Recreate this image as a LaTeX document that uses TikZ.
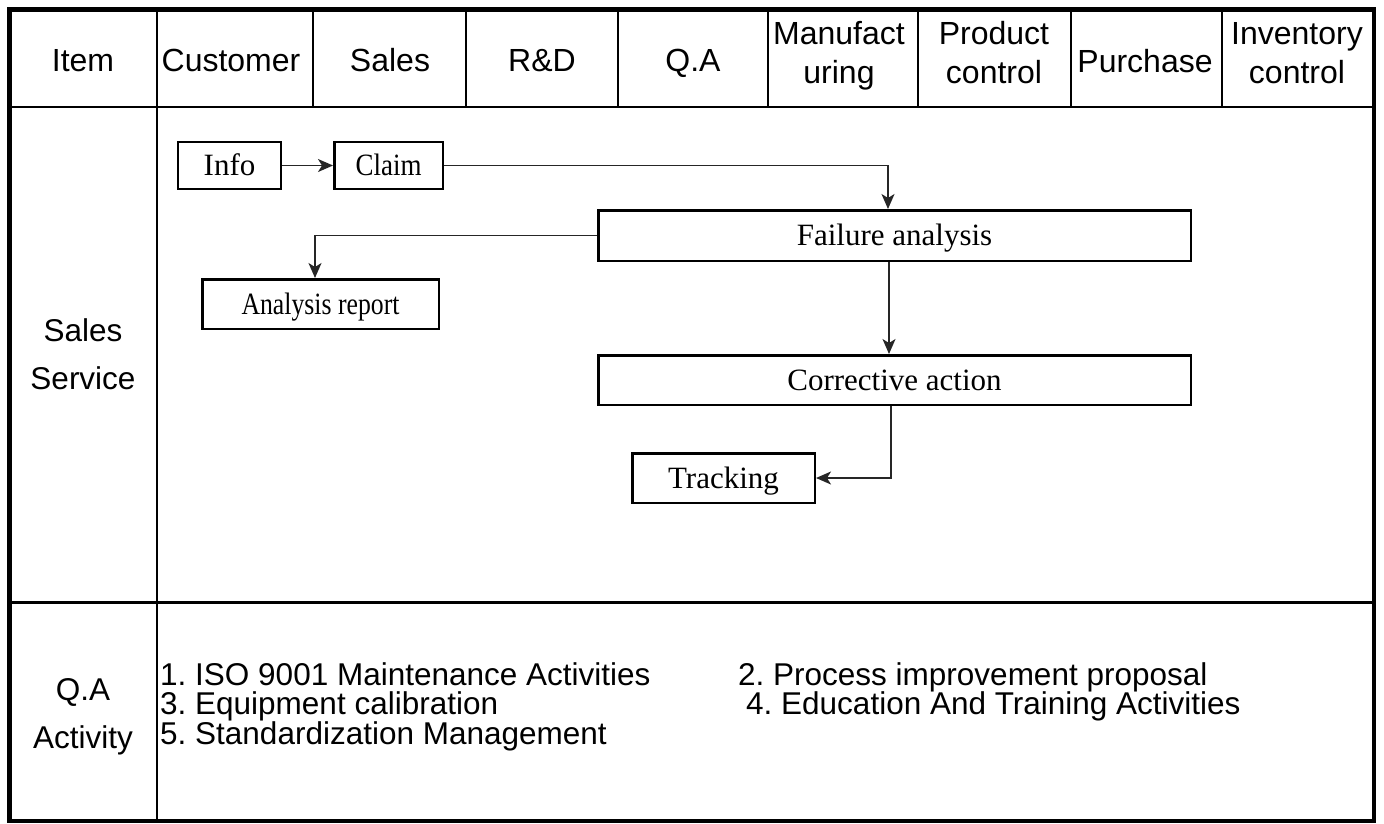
\documentclass[tikz,border=0pt]{standalone}
\usepackage{graphicx}
\usepackage{fontspec}
\setmainfont{Liberation Serif}
\newfontfamily\arialf{Liberation Sans}
\usetikzlibrary{arrows.meta}
\frenchspacing
\begin{document}
\begin{tikzpicture}[x=1pt,y=-1pt,
  hdr/.style={font=\arialf\fontsize{32}{38}\selectfont, anchor=base, inner sep=0pt},
  lbl/.style={font=\arialf\fontsize{31.5}{36}\selectfont, anchor=base, inner sep=0pt},
  lst/.style={font=\arialf\fontsize{31.5}{36}\selectfont, anchor=base west, inner sep=0pt},
  box/.style={draw, line width=2.5pt, inner sep=0pt, font=\fontsize{31}{36}\selectfont, text height=22pt, text depth=2pt, minimum height=49.5pt},
  conn/.style={draw=black!85, line width=1.6pt, -{Stealth[length=15pt,width=13pt,inset=4pt]}},
  frame/.style={line width=4.5pt},
  rule/.style={line width=2.5pt}]
\useasboundingbox (0,0) rectangle (1384,823);
% table
\draw[frame] (9.5,9.5) rectangle (1374,821);
\draw[rule] (9.5,107) -- (1374,107);
\draw[line width=3pt] (9.5,602) -- (1374,602);
\draw[rule] (157,9.5) -- (157,821);
\foreach \x in {313,466,618,768,918,1071,1222} \draw[rule] (\x,9.5) -- (\x,107);
% header
\node[hdr] (hItem) at (83,71) {Item};
\node[hdr] (hCust) at (231,71) {Customer};
\node[hdr] (hSales) at (390,71) {Sales};
\node[hdr] (hRD) at (542,71) {R\&D};
\node[hdr] (hQA) at (693,71) {Q.A};
\node[hdr] (hMan1) at (839,44) {Manufact};
\node[hdr] (hMan2) at (839,83) {uring};
\node[hdr] (hPro1) at (994,44) {Product};
\node[hdr] (hPro2) at (994,83) {control};
\node[hdr] (hPur) at (1145,72) {Purchase};
\node[hdr] (hInv1) at (1297,44) {Inventory};
\node[hdr] (hInv2) at (1297,83) {control};
% row labels
\node[lbl] (lSales) at (83,341) {Sales};
\node[lbl] (lServ) at (83,389) {Service};
\node[lbl] (lQA) at (83,700) {Q.A};
\node[lbl] (lAct) at (83,748) {Activity};
% flow boxes
\node[box, minimum width=103pt, minimum height=47pt] (info) at (229.5,165.5) {Info};
\node[box, minimum width=108.5pt, minimum height=47pt] (claim) at (388.5,165.5) {\scalebox{0.87}[1]{Claim}};
\node[box, minimum width=592.5pt, minimum height=50.5pt] (fail) at (894.5,235.5) {Failure analysis};
\node[box, minimum width=236.5pt] (ana) at (320.5,304) {\scalebox{0.83}[1]{Analysis report}};
\node[box, minimum width=592.5pt] (corr) at (894.5,380) {Corrective action};
\node[box, minimum width=182.5pt] (track) at (723.5,478) {Tracking};
% connectors
\draw[conn] (info.east) -- (claim.west);
\draw[conn] (claim.east) -| ([xshift=-6.5pt]fail.north);
\draw[conn] (fail.west) -| ([xshift=-5.5pt]ana.north);
\draw[conn] ([xshift=-5.5pt]fail.south) -- ([xshift=-5.5pt]corr.north);
\draw[conn] ([xshift=-3.5pt]corr.south) |- (track.east);
% activity list
\node[lst] (a1) at (160,685) {1. ISO 9001 Maintenance Activities};
\node[lst] (a2) at (738,685) {2. Process improvement proposal};
\node[lst] (a3) at (160,714.5) {3. Equipment calibration};
\node[lst] (a4) at (746,714.5) {4. Education And Training Activities};
\node[lst] (a5) at (160,744) {5. Standardization Management};
\end{tikzpicture}
\end{document}
